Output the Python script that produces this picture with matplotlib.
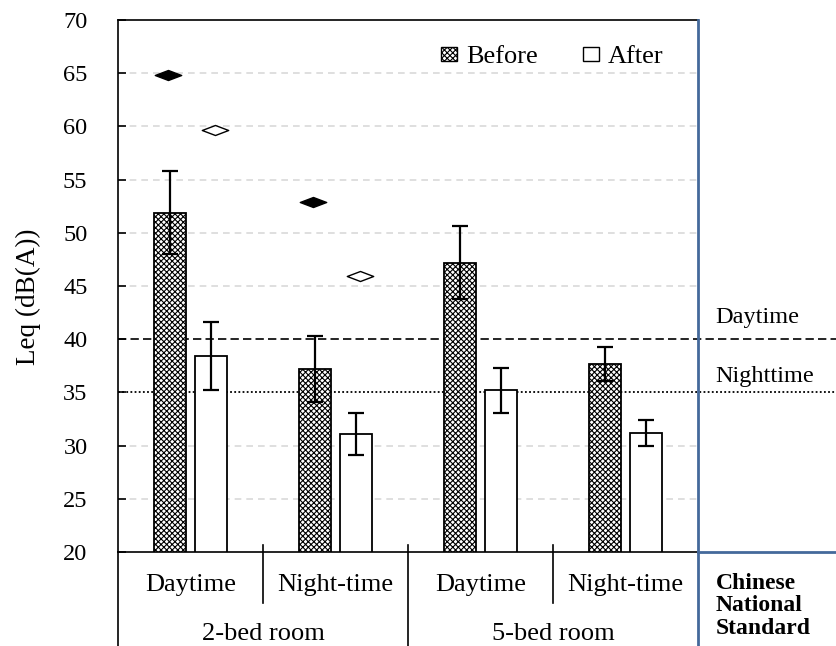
import numpy as np
import matplotlib
matplotlib.use('Agg')
import matplotlib.pyplot as plt
from matplotlib.path import Path
from matplotlib.patches import Patch

plt.rcParams['font.family'] = ['Liberation Serif', 'DejaVu Serif']
plt.rcParams['hatch.linewidth'] = 0.8

# data
periods = ['Daytime', 'Night-time', 'Daytime', 'Night-time']
rooms = ['2-bed room', '5-bed room']
before_mean = [51.9, 37.2, 47.2, 37.7]
before_err = [3.9, 3.1, 3.4, 1.6]
after_mean = [38.4, 31.1, 35.2, 31.2]
after_err = [3.2, 2.0, 2.1, 1.2]
# diamonds (only the 2-bed room)
before_peak = [64.8, 52.9]
after_peak = [59.7, 45.9]
std_day = 40
std_night = 35
yticks = [20, 25, 30, 35, 40, 45, 50, 55, 60, 65, 70]

blue = '#44699b'
fs = 19

fig = plt.figure(figsize=(8.37, 6.46), dpi=100)
ax = fig.add_axes([118 / 837, 94 / 646, 719 / 837, 532 / 646])

x = np.arange(len(periods))
w = 0.225
off = 0.142

# light grid only across the measured part
for v in yticks[1:-1]:
    if v in (std_day, std_night):
        continue
    ax.plot([-0.5, 3.5], [v, v], color='#d9d9d9', lw=1.2, ls=(0, (4, 3)), zorder=0)

ax.bar(x - off, before_mean, w, color='white', edgecolor='black', hatch='xxxxxx',
       lw=1.3, zorder=2)
ax.bar(x + off, after_mean, w, color='white', edgecolor='black', lw=1.3, zorder=2)
ax.errorbar(x - off, before_mean, yerr=before_err, fmt='none', ecolor='black',
            elinewidth=1.6, capsize=5.5, capthick=1.6, zorder=3)
ax.errorbar(x + off, after_mean, yerr=after_err, fmt='none', ecolor='black',
            elinewidth=1.6, capsize=5.5, capthick=1.6, zorder=3)

# flat diamond marker
diamond = Path([(-1, 0), (0, 0.38), (1, 0), (0, -0.38), (-1, 0)],
               [Path.MOVETO, Path.LINETO, Path.LINETO, Path.LINETO, Path.CLOSEPOLY])
xp = np.arange(len(before_peak))
ax.plot(xp - 0.155, before_peak, ls='none', marker=diamond, ms=19,
        mfc='black', mec='black', mew=1, zorder=4)
ax.plot(xp + 0.17, after_peak, ls='none', marker=diamond, ms=19,
        mfc='white', mec='black', mew=1, zorder=4)

# national standard lines
ax.axhline(std_day, color='black', lw=1.2, ls=(0, (5, 2.5)), zorder=1)
ax.axhline(std_night, color='black', lw=1.3, ls=(0, (1, 1.3)), zorder=1)
ax.text(3.62, 42.0, 'Daytime', fontsize=17.5, ha='left', va='center')
ax.text(3.62, 36.5, 'Nighttime', fontsize=17.5, ha='left', va='center')

ax.set_xlim(-0.5, -0.5 + 719 / 145)
ax.set_ylim(20, 70)
ax.set_yticks(yticks)
ax.tick_params(axis='y', direction='in', length=6, width=1.2, pad=22, labelsize=17.5)
ax.set_xticks([])
for s in ['top', 'right', 'bottom']:
    ax.spines[s].set_visible(False)
ax.spines['left'].set_linewidth(1.2)

tr = ax.get_xaxis_transform()
lk = dict(transform=tr, clip_on=False, lw=1.2)
ax.plot([-0.5, 3.5], [1, 1], color='black', **lk)
ax.plot([-0.5, 3.5], [0, 0], color='black', **lk)
ax.plot([3.5, 4.46], [0, 0], color=blue, lw=2, transform=tr, clip_on=False)
ax.plot([3.5, 3.5], [1, -0.177], color=blue, lw=2, transform=tr, clip_on=False)
ax.plot([-0.5, -0.5], [0, -0.177], color='black', **lk)
ax.plot([0.5, 0.5], [0.013, -0.096], color='black', **lk)
ax.plot([2.5, 2.5], [0.013, -0.096], color='black', **lk)
ax.plot([1.5, 1.5], [0.013, -0.177], color='black', **lk)

for i, p in enumerate(periods):
    ax.text(i, -0.062, p, transform=tr, ha='center', va='center', fontsize=fs)
for j, r in enumerate(rooms):
    ax.text(2 * j + 0.5, -0.154, r, transform=tr, ha='center', va='center', fontsize=fs)
ax.text(3.62, -0.1015, 'Chinese\nNational\nStandard', transform=tr, ha='left',
        va='center', fontsize=17, fontweight='bold', linespacing=1.1)

fig.text(28 / 837, 1 - 297 / 646, 'Leq (dB(A))', rotation=90, ha='center',
         va='center', fontsize=19.5)

handles = [Patch(facecolor='white', edgecolor='black', hatch='xxxxxx', label='Before'),
           Patch(facecolor='white', edgecolor='black', label='After')]
ax.legend(handles=handles, ncol=2, loc='center', bbox_to_anchor=(0.604, 0.93),
          frameon=False, fontsize=fs, handlelength=0.6, handleheight=0.45,
          handletextpad=0.35, columnspacing=1.7)

fig.savefig('out.png', dpi=100)
